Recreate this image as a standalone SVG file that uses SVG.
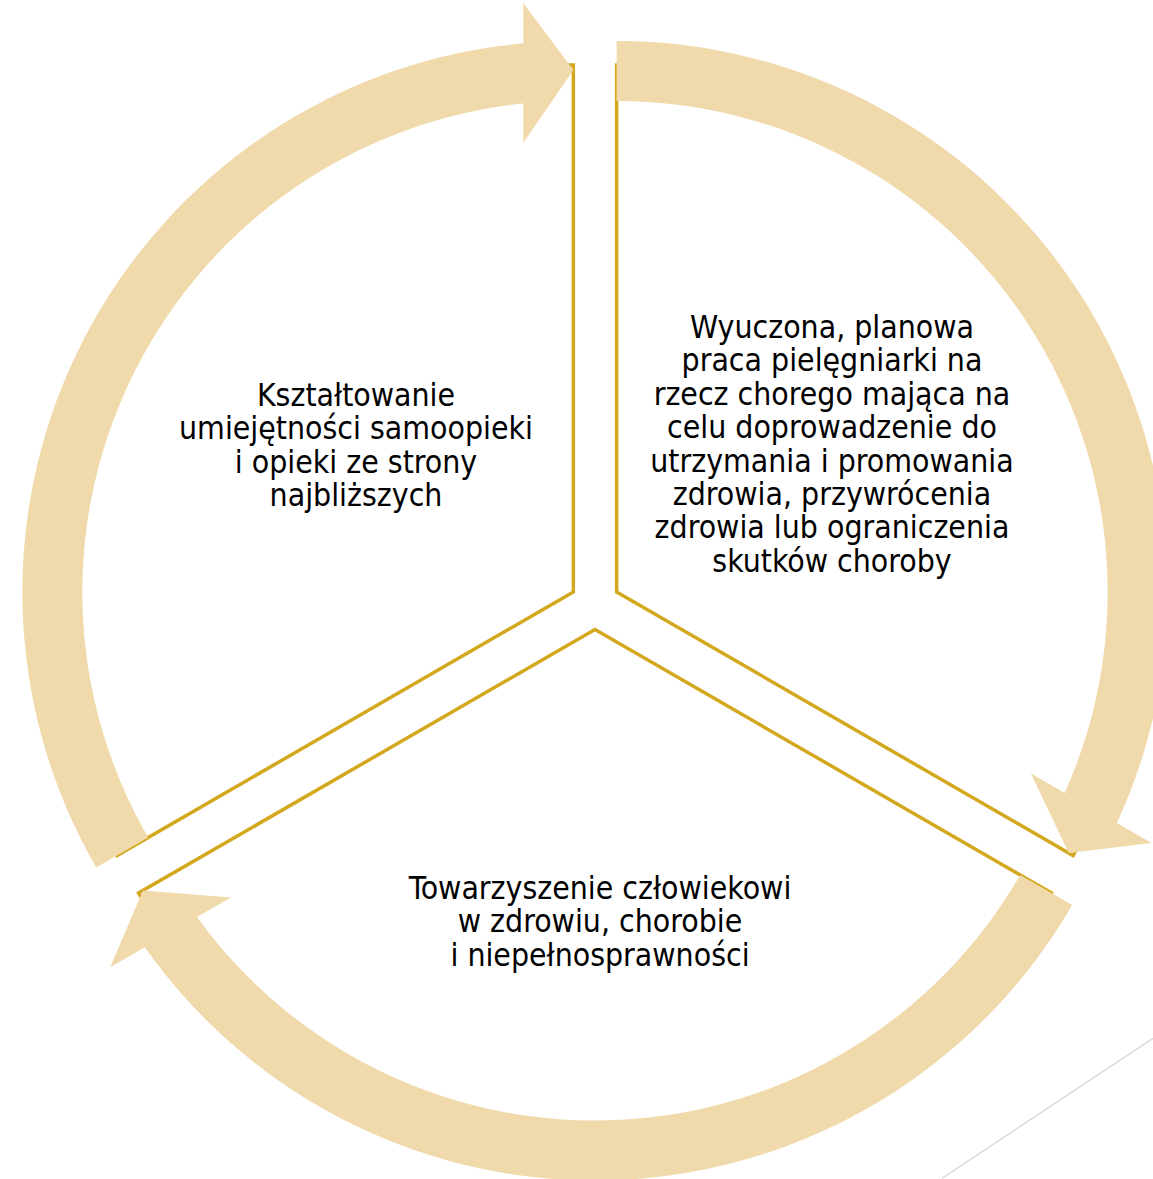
<svg xmlns="http://www.w3.org/2000/svg" xmlns:xlink="http://www.w3.org/1999/xlink" width="1153" height="1179" viewBox="0 0 1153 1179">
<style>
.pie{fill:#FFFFFF;stroke:#D4A81E;stroke-width:3.5;stroke-linejoin:miter}
.arrow{fill:#F0DAAB;stroke:none}
.lbl{font-family:"DejaVu Sans Condensed","DejaVu Sans",sans-serif;font-stretch:condensed;font-size:31.7px;fill:#000000;text-anchor:middle}
</style>
<defs>
<path id="pieShape" d="M0,0 L0,-527 A527,527 0 0 0 -456.4,263.5 Z"/>
<path id="arrowShape" d="M-477.18,275.5 A551,551 0 0 1 -50,-548.73 L-50,-588.7 L0,-522 L-50,-449.3 L-50,-488.45 A491,491 0 0 0 -425.22,245.5 Z"/>
</defs>
<rect x="0" y="0" width="1153" height="1179" fill="#FFFFFF"/>
<line x1="941.7" y1="1178.5" x2="1153" y2="1038.3" stroke="#D9D9D9" stroke-width="1.5"/>
<g id="node-left">
<use xlink:href="#pieShape" class="pie" transform="translate(573.35,592)"/>
<text class="lbl" x="356" y="406"><tspan x="356">Kształtowanie</tspan><tspan x="356" dy="33.4">umiejętności samoopieki</tspan><tspan x="356" dy="33.4">i opieki ze strony</tspan><tspan x="356" dy="33.4">najbliższych</tspan></text>
</g>
<g id="node-right">
<use xlink:href="#pieShape" class="pie" transform="translate(616.65,592) rotate(120)"/>
<text class="lbl" x="832" y="338"><tspan x="832">Wyuczona, planowa</tspan><tspan x="832" dy="33.4">praca pielęgniarki na</tspan><tspan x="832" dy="33.4">rzecz chorego mająca na</tspan><tspan x="832" dy="33.4">celu doprowadzenie do</tspan><tspan x="832" dy="33.4">utrzymania i promowania</tspan><tspan x="832" dy="33.4">zdrowia, przywrócenia</tspan><tspan x="832" dy="33.4">zdrowia lub ograniczenia</tspan><tspan x="832" dy="33.4">skutków choroby</tspan></text>
</g>
<g id="node-bottom">
<use xlink:href="#pieShape" class="pie" transform="translate(595,629.5) rotate(240)"/>
<text class="lbl" x="600" y="899"><tspan x="600">Towarzyszenie człowiekowi</tspan><tspan x="600" dy="33.4">w zdrowiu, chorobie</tspan><tspan x="600" dy="33.4">i niepełnosprawności</tspan></text>
</g>
<g id="connectors">
<use xlink:href="#arrowShape" class="arrow" transform="translate(573.35,592)"/>
<use xlink:href="#arrowShape" class="arrow" transform="translate(616.65,592) rotate(120)"/>
<use xlink:href="#arrowShape" class="arrow" transform="translate(595,629.5) rotate(240)"/>
</g>
</svg>
